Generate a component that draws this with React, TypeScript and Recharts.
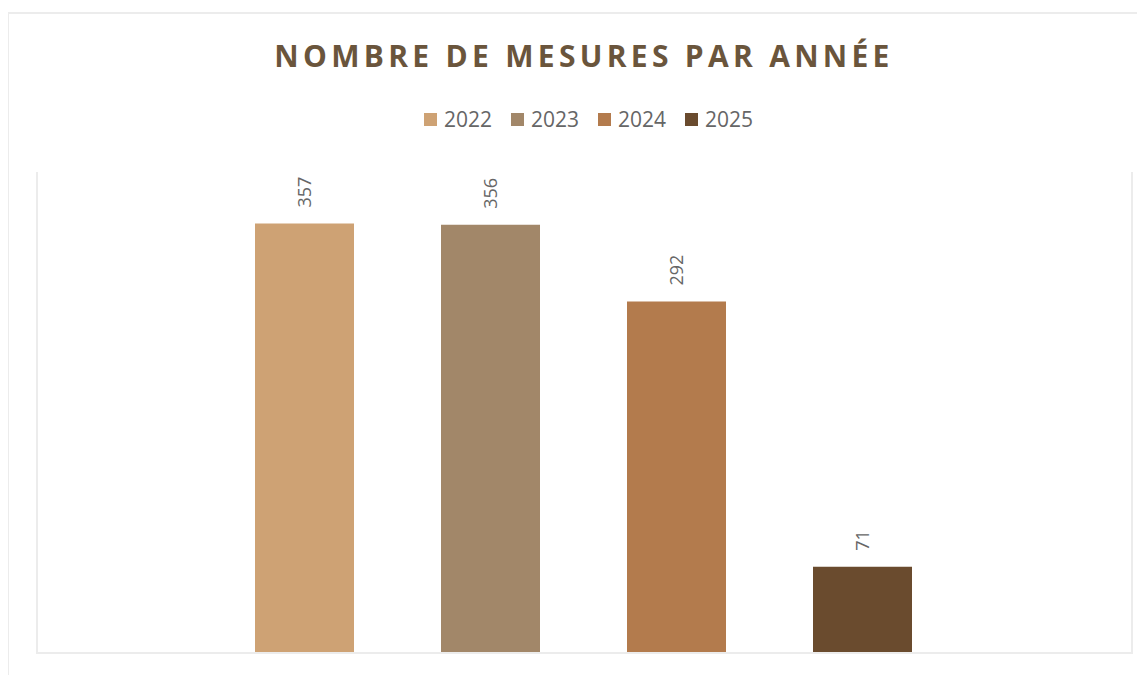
import React from 'react';
import { BarChart, Bar, XAxis, YAxis, LabelList } from 'recharts';

const years = ['2022', '2023', '2024', '2025'];
const mesures = [357, 356, 292, 71];
const category = ['Mesures'];

const colors = ['#CEA274', '#A28769', '#B37B4D', '#6A4B2E'];

const data = category.map((name) => {
  const row: any = { name };
  years.forEach((y, i) => {
    row[y] = mesures[i];
  });
  return row;
});

const FONT = '"Open Sans", "DejaVu Sans", sans-serif';
const BORDER = '#ececec';

const VerticalLabel = (props: any) => {
  const { x, y, width, value } = props;
  const cx = x + width / 2;
  const ly = y - 16;
  return (
    <text
      x={cx}
      y={ly}
      transform={`rotate(-90 ${cx} ${ly})`}
      textAnchor="start"
      dominantBaseline="central"
      fill="#666666"
      fontSize={18}
      fontFamily={FONT}
    >
      {value}
    </text>
  );
};

const App: React.FC = () => {
  return (
    <div style={{ position: 'relative', width: 1145, height: 675, marginTop: -8, marginLeft: -8, overflow: 'hidden', background: '#fff' }}>
      {/* outer chart frame */}
      <div style={{ position: 'absolute', left: 7, top: 12, width: 1200, height: 700, borderLeft: `2px solid ${BORDER}`, borderTop: `2px solid ${BORDER}` }} />
      {/* plot area frame (no top edge) */}
      <div style={{ position: 'absolute', left: 36, top: 172, width: 1093, height: 480, borderLeft: `2px solid ${BORDER}`, borderRight: `2px solid ${BORDER}`, borderBottom: `2px solid ${BORDER}` }} />
      <div
        style={{
          position: 'absolute', top: 35, left: 0, width: 1168, textAlign: 'center',
          fontFamily: FONT, fontWeight: 700, fontSize: 30, letterSpacing: 4.3, color: '#6A553C',
        }}
      >
        NOMBRE DE MESURES PAR ANNÉE
      </div>
      <div style={{ position: 'absolute', top: 105, left: 424, display: 'flex', fontFamily: FONT, fontSize: 21, color: '#666666' }}>
        {years.map((y, i) => (
          <div key={y} style={{ display: 'flex', alignItems: 'center', width: 87 }}>
            <span style={{ display: 'inline-block', width: 13, height: 13, background: colors[i], marginRight: 7 }} />
            <span>{y}</span>
          </div>
        ))}
      </div>
      <div style={{ position: 'absolute', left: 0, top: 0 }}>
        <BarChart
          width={1145}
          height={675}
          data={data}
          margin={{ top: 172, right: 15, bottom: 23, left: 36 }}
          barGap={87}
          barCategoryGap={0}
        >
          <XAxis dataKey="name" hide />
          <YAxis domain={[0, 400]} hide />
          {years.map((y, i) => (
            <Bar key={y} dataKey={y} fill={colors[i]} barSize={99} isAnimationActive={false}>
              <LabelList dataKey={y} content={VerticalLabel} />
            </Bar>
          ))}
        </BarChart>
      </div>
    </div>
  );
};

export default App;
